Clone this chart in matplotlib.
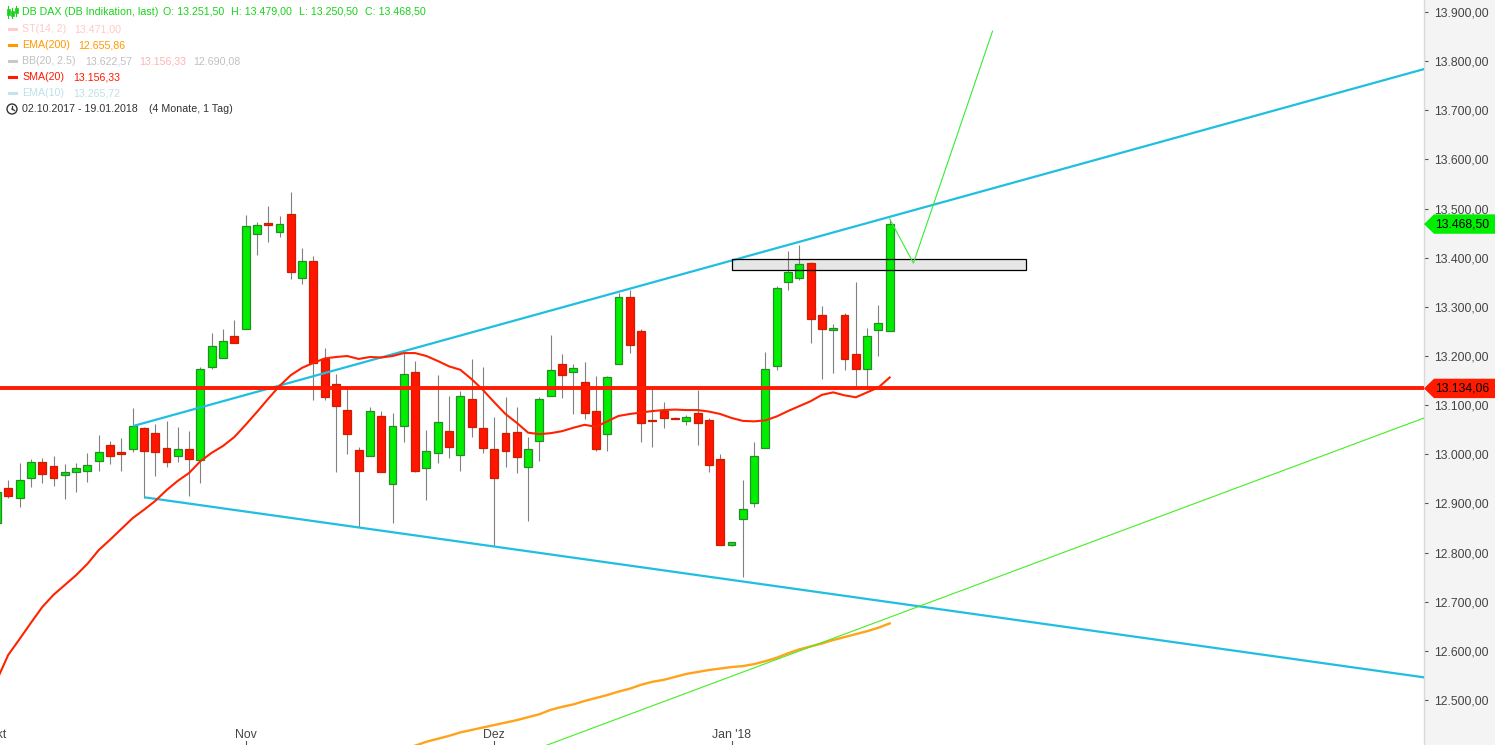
import numpy as np
import matplotlib
matplotlib.use('Agg')
import matplotlib.pyplot as plt
import matplotlib.transforms as mtransforms
from matplotlib.patches import Rectangle, Polygon, Ellipse
from matplotlib.lines import Line2D

plt.rcParams['font.family'] = ['Liberation Sans', 'DejaVu Sans']

# ---------------- data (daily candles 02.10.2017 - 19.01.2018) ----------------
opens = [12860, 12931, 12912, 12951, 12984, 12976, 12957, 12963, 12967, 12986,
         13018, 13004, 13010, 13053, 13043, 13012, 12996, 13010, 12988, 13177,
         13195, 13240, 13254, 13448, 13471, 13452, 13488, 13358, 13393, 13194,
         13144, 13090, 13008, 12996, 13077, 12939, 13057, 13167, 12972, 13002,
         13047, 12998, 13112, 13053, 13010, 13043, 13045, 12974, 13028, 13118,
         13183, 13167, 13147, 13088, 13041, 13183, 13320, 13250, 13070, 13088,
         13074, 13067, 13085, 13069, 12990, 12815, 12868, 12900, 13012, 13180,
         13350, 13358, 13389, 13283, 13253, 13283, 13204, 13173, 13252, 13251.5]
highs = [12930, 12948, 12982, 12990, 12992, 12996, 12980, 12982, 13003, 13039,
         13027, 13033, 13094, 13056, 13061, 13068, 13055, 13047, 13177, 13247,
         13255, 13273, 13487, 13473, 13505, 13485, 13534, 13420, 13404, 13216,
         13163, 13136, 13014, 13096, 13088, 13085, 13206, 13189, 13049, 13161,
         13118, 13128, 13193, 13177, 13075, 13116, 13096, 13036, 13116, 13243,
         13204, 13183, 13187, 13159, 13159, 13328, 13334, 13254, 13138, 13106,
         13075, 13079, 13130, 13073, 13000, 12822, 12948, 13024, 13208, 13342,
         13413, 13426, 13391, 13301, 13265, 13287, 13350, 13256, 13303, 13479]
lows = [12855, 12912, 12893, 12934, 12941, 12935, 12910, 12924, 12944, 12965,
        12980, 12967, 13005, 12912, 12956, 12974, 12985, 12916, 12942, 13174,
        13195, 13227, 13254, 13406, 13433, 13443, 13357, 13347, 13110, 13110,
        12963, 13001, 12853, 12996, 12963, 12860, 13026, 12963, 12906, 12982,
        12992, 12967, 13035, 13002, 12813, 12974, 12961, 12865, 12987, 13118,
        13114, 13081, 13071, 13006, 13007, 13183, 13206, 13026, 13014, 13053,
        13071, 13059, 13018, 12963, 12815, 12814, 12751, 12893, 13012, 13172,
        13335, 13355, 13227, 13153, 13166, 13171, 13134, 13134, 13201, 13250.5]
closes = [12923, 12916, 12948, 12984, 12959, 12951, 12963, 12972, 12978, 13004,
          12996, 13000, 13057, 13006, 13004, 12984, 13010, 12990, 13173, 13220,
          13230, 13227, 13464, 13466, 13466, 13468, 13370, 13393, 13186, 13117,
          13098, 13041, 12967, 13088, 12963, 13057, 13163, 12965, 13006, 13065,
          13014, 13118, 13055, 13012, 12951, 13006, 12994, 13010, 13112, 13171,
          13161, 13175, 13085, 13010, 13157, 13320, 13222, 13063, 13068, 13073,
          13072, 13075, 13063, 12978, 12815, 12821, 12888, 12996, 13173, 13338,
          13370, 13387, 13275, 13254, 13256, 13193, 13173, 13240, 13267, 13468.5]

sma20 = [12541, 12592, 12624, 12657, 12689, 12714, 12734, 12754, 12777, 12805,
         12826, 12848, 12870, 12887, 12905, 12927, 12946, 12962, 12986, 13003,
         13017, 13035, 13060, 13086, 13113, 13139, 13161, 13176, 13186, 13195,
         13198, 13200, 13194, 13198, 13197, 13200, 13206, 13206, 13200, 13190,
         13179, 13172, 13153, 13131, 13106, 13082, 13064, 13044, 13041, 13043,
         13047, 13054, 13060, 13056, 13067, 13078, 13082, 13085, 13088, 13090,
         13091, 13090, 13090, 13087, 13082, 13074, 13068, 13067, 13069, 13077,
         13088, 13098, 13108, 13121, 13126, 13120, 13116, 13126, 13136, 13156.33]

ema200_start = 36
ema200 = [12401, 12407, 12415, 12421, 12427, 12434, 12439, 12444, 12449, 12454,
          12459, 12465, 12471, 12480, 12486, 12491, 12498, 12504, 12510, 12517,
          12523, 12531, 12537, 12541, 12547, 12553, 12557, 12561, 12564, 12567,
          12569, 12573, 12579, 12586, 12595, 12603, 12609, 12615, 12622, 12628,
          12634, 12640, 12647, 12655.86]

hline_level = 13134.06
last_close = 13468.50

# drawn trend lines (index, price)
upper_channel = ([12.06, 126.3], [13057.6, 13784])
lower_channel = ([13.04, 126.3], [12912.5, 12546])
green_support = ([48.65, 126.3], [12408, 13074])
projection = ([79, 81.1, 88.1], [13479, 13389, 13861])
zone = (65.07, 91.1, 13375, 13397)

month_ticks = [0, 22, 44, 65]
month_labels = ['Okt', 'Nov', 'Dez', "Jan '18"]
yticks = list(range(12500, 13901, 100))

# ---------------- figure ----------------
W, H = 1495, 745
AXW = 1424
fig = plt.figure(figsize=(W / 100, H / 100), dpi=100)
fig.patch.set_facecolor('white')

pax = fig.add_axes([AXW / W, 0, 1 - AXW / W, 1])
pax.set_facecolor('#f4f4f4')
pax.set_xticks([]); pax.set_yticks([])
for s in pax.spines.values():
    s.set_visible(False)
pax.set_zorder(0)

ax = fig.add_axes([0, 0, AXW / W, 1])
ax.set_zorder(1)
ax.set_facecolor('white')
ax.set_xlim(3 / 11.3, (AXW + 3) / 11.3)
ax.set_ylim(12408.4, 13924.5)
for k in ['top', 'left', 'bottom']:
    ax.spines[k].set_visible(False)
ax.spines['right'].set_color('#d9d9d9')
ax.spines['right'].set_linewidth(1.0)
ax.set_xticks([])
ax.yaxis.tick_right()
ax.set_yticks(yticks)
ax.set_yticklabels([f"{v:,.2f}".replace(',', 'X').replace('.', ',').replace('X', '.') for v in yticks])
ax.tick_params(axis='y', direction='out', length=3, width=0.8, color='#555555',
               pad=4, labelsize=8.8, labelcolor='#444444')

# zone fill behind candles, outline on top
ax.add_patch(Rectangle((zone[0], zone[2]), zone[1] - zone[0], zone[3] - zone[2],
                       facecolor='#e6e6e6', edgecolor='none', zorder=1.5))
ax.add_patch(Rectangle((zone[0], zone[2]), zone[1] - zone[0], zone[3] - zone[2],
                       facecolor='none', edgecolor='black', lw=0.9, zorder=6))

idx = np.arange(len(closes))
o = np.array(opens); c = np.array(closes); h = np.array(highs); l = np.array(lows)
up = c >= o
ax.vlines(idx, l, h, color='#808080', lw=0.8, zorder=2)
bottoms = np.minimum(o, c)
heights = np.maximum(np.abs(c - o), 1.5)
ax.bar(idx[up], heights[up], bottom=bottoms[up], width=0.7, color='#00ee00',
       edgecolor='#2a8a2a', linewidth=0.9, zorder=3)
ax.bar(idx[~up], heights[~up], bottom=bottoms[~up], width=0.7, color='#ff1500',
       edgecolor='#c82000', linewidth=0.9, zorder=3)

ax.plot(np.arange(ema200_start, ema200_start + len(ema200)), ema200,
        color='#ffa31a', lw=1.7, zorder=4)
ax.plot(idx, sma20, color='#ff2200', lw=1.5, zorder=5)
ax.axhline(hline_level, color='#ff1a00', lw=2.8, zorder=6)

cyan = '#20bfe0'
ax.plot(*upper_channel, color=cyan, lw=1.6, zorder=4, solid_capstyle='butt')
ax.plot(*lower_channel, color=cyan, lw=1.6, zorder=4, solid_capstyle='butt')
ax.plot(*green_support, color='#44ee22', lw=0.8, zorder=4)
ax.plot(*projection, color='#33ee33', lw=0.8, zorder=7)

# x month ticks and labels
bt = mtransforms.blended_transform_factory(ax.transData, ax.transAxes)
for t, lab in zip(month_ticks, month_labels):
    ax.plot([t, t], [0, 4 / H], color='#555555', lw=0.8, transform=bt, clip_on=True)
    ax.text(t, 10 / H, lab, transform=bt, ha='center', va='center', fontsize=8.8,
            color='#444444', clip_on=True)

# price tags on the right axis
ft = mtransforms.blended_transform_factory(fig.transFigure, ax.transData)
hh = 9.7 / 0.4914
def tag(level, fc, text):
    pts = [(AXW / W, level), (1434 / W, level + hh), (1.0, level + hh),
           (1.0, level - hh), (1434 / W, level - hh)]
    ax.add_patch(Polygon(pts, closed=True, facecolor=fc, edgecolor='none',
                         transform=ft, clip_on=False, zorder=10))
    ax.text(1489 / W, level, text, transform=ft, ha='right', va='center',
            fontsize=8.8, color='black', clip_on=False, zorder=11)

tag(last_close, '#00ee00', '13.468,50')
tag(hline_level, '#ff1a00', '13.134,06')

# ---------------- legend block (top-left) ----------------
def px(x, y):
    return x / W, 1 - y / H

ZL = 20
fs = 7.7
rows = [12, 29, 45, 61, 77, 93, 109]
g = '#19d219'
fig.text(*px(22, rows[0]), 'DB DAX (DB Indikation, last)', color=g, fontsize=fs, va='center', zorder=ZL)
for xx, s in [(163, 'O: 13.251,50'), (231, 'H: 13.479,00'), (299, 'L: 13.250,50'), (365, 'C: 13.468,50')]:
    fig.text(*px(xx, rows[0]), s, color=g, fontsize=fs, va='center', zorder=ZL)

# candle icon
for xc, y0, y1, b0, b1 in [(8, 6, 18, 9, 15), (12, 8, 18, 11, 16), (16, 6, 16, 8, 13)]:
    fig.add_artist(Line2D([xc / W, xc / W], [1 - y0 / H, 1 - y1 / H], color=g, lw=0.8, zorder=ZL))
    fig.add_artist(Rectangle(px(xc - 1.5, b1), 3 / W, (b1 - b0) / H, facecolor=g,
                             edgecolor=g, lw=0.5, transform=fig.transFigure, zorder=ZL))

legend_items = [
    (rows[1], '#ffcccc', [(22, 'ST(14, 2)', '#ffc8c8'), (74, '13.471,00', '#ffc8c8')]),
    (rows[2], '#ff9900', [(22, 'EMA(200)', '#ff9900'), (78, '12.655,86', '#ff9900')]),
    (rows[3], '#c8c8c8', [(22, 'BB(20, 2.5)', '#c0c0c0'), (85, '13.622,57', '#c0c0c0'),
                          (139, '13.156,33', '#ffb3b3'), (193, '12.690,08', '#c0c0c0')]),
    (rows[4], '#ff1a00', [(22, 'SMA(20)', '#ff1a00'), (73, '13.156,33', '#ff1a00')]),
    (rows[5], '#c5e3ee', [(22, 'EMA(10)', '#bfe0ea'), (73, '13.265,72', '#bfe0ea')]),
]
for yy, mcol, parts in legend_items:
    fig.add_artist(Line2D([9 / W, 16 / W], [1 - yy / H, 1 - yy / H], color=mcol, lw=2.2, zorder=ZL))
    for xx, s, col in parts:
        fig.text(*px(xx, yy), s, color=col, fontsize=fs, va='center', zorder=ZL)

# clock icon + date range
fig.add_artist(Ellipse(px(12, rows[6]), 10 / W, 10 / H, transform=fig.transFigure,
                       fill=False, edgecolor='#333333', lw=1.0, zorder=ZL))
fig.add_artist(Line2D([12 / W, 12 / W], [1 - rows[6] / H, 1 - (rows[6] - 3.5) / H],
                      color='#333333', lw=0.9, zorder=ZL))
fig.add_artist(Line2D([12 / W, 14.5 / W], [1 - rows[6] / H, 1 - (rows[6] + 1.5) / H],
                      color='#333333', lw=0.9, zorder=ZL))
fig.text(*px(22, rows[6]), '02.10.2017 - 19.01.2018', color='#333333', fontsize=fs, va='center', zorder=ZL)
fig.text(*px(149, rows[6]), '(4 Monate, 1 Tag)', color='#333333', fontsize=fs, va='center', zorder=ZL)

fig.savefig('out.png', dpi=100)
